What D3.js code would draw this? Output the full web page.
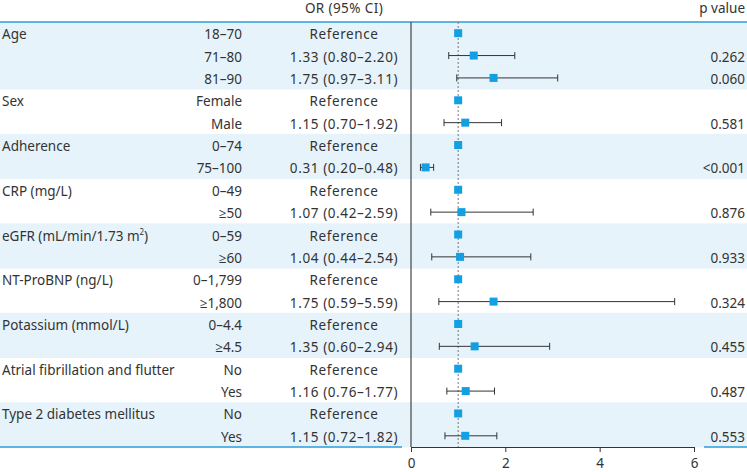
<!DOCTYPE html>
<html>
<head>
<meta charset="utf-8">
<script src="https://cdn.jsdelivr.net/npm/d3@7"></script>
<style>
  body { margin: 0; background: #fff; }
  svg { display: block; }
  text { font-family: "Noto Sans", "Open Sans", sans-serif; fill: #333; }
</style>
</head>
<body>
<svg id="chart" width="747" height="472"></svg>
<script>
// ---- data ----
const groupNames = ["Age", "", "", "Sex", "", "Adherence", "", "CRP (mg/L)", "", "eGFR", "", "NT-ProBNP (ng/L)", "", "Potassium (mmol/L)", "", "Atrial fibrillation and flutter", "", "Type 2 diabetes mellitus", ""];
const groupIndex = [0, 0, 0, 1, 1, 2, 2, 3, 3, 4, 4, 5, 5, 6, 6, 7, 7, 8, 8];
const subgroups = ["18–70", "71–80", "81–90", "Female", "Male", "0–74", "75–100", "0–49", "≥50", "0–59", "≥60", "0–1,799", "≥1,800", "0–4.4", "≥4.5", "No", "Yes", "No", "Yes"];
const orLabels = ["Reference", "1.33 (0.80–2.20)", "1.75 (0.97–3.11)", "Reference", "1.15 (0.70–1.92)", "Reference", "0.31 (0.20–0.48)", "Reference", "1.07 (0.42–2.59)", "Reference", "1.04 (0.44–2.54)", "Reference", "1.75 (0.59–5.59)", "Reference", "1.35 (0.60–2.94)", "Reference", "1.16 (0.76–1.77)", "Reference", "1.15 (0.72–1.82)"];
const estimates = [1, 1.33, 1.75, 1, 1.15, 1, 0.31, 1, 1.07, 1, 1.04, 1, 1.75, 1, 1.35, 1, 1.16, 1, 1.15];
const lower = [null, 0.80, 0.97, null, 0.70, null, 0.20, null, 0.42, null, 0.44, null, 0.59, null, 0.60, null, 0.76, null, 0.72];
const upper = [null, 2.20, 3.11, null, 1.92, null, 0.48, null, 2.59, null, 2.54, null, 5.59, null, 2.94, null, 1.77, null, 1.82];
const pValues = ["", "0.262", "0.060", "", "0.581", "", "<0.001", "", "0.876", "", "0.933", "", "0.324", "", "0.455", "", "0.487", "", "0.553"];
const xTicks = [0, 2, 4, 6];

const svg = d3.select("#chart");
const W = 747;
const yTop = 22, yBottom = 447;
const blue = "#2a9fd8";
const shade = "#e6f3fb";
const markerColor = "#139fe3";
const fs = 13.5;
const orX = 344;

const y = d3.scaleBand().domain(d3.range(subgroups.length)).range([yTop, yBottom]).padding(0);
const x = d3.scaleLinear().domain([0, 6]).range([411, 694]);

// shading per group
const rows = subgroups.map((s, i) => ({i, g: groupIndex[i]}));
svg.append("g").selectAll("rect").data(rows.filter(r => r.g % 2 === 0)).join("rect")
  .attr("x", 0).attr("width", W)
  .attr("y", r => y(r.i)).attr("height", y.bandwidth() + 0.5)
  .attr("fill", shade);

// header
svg.append("text").attr("x", orX).attr("y", 8).attr("text-anchor", "middle")
  .attr("dominant-baseline", "central").attr("font-size", fs).attr("letter-spacing", 0.4).text("OR (95% CI)");
svg.append("text").attr("x", 745).attr("y", 8).attr("text-anchor", "end")
  .attr("dominant-baseline", "central").attr("font-size", fs).text("p value");

// top blue line
svg.append("line").attr("x1", 0).attr("x2", W).attr("y1", yTop).attr("y2", yTop)
  .attr("stroke", blue).attr("stroke-width", 1.5);
// bottom blue lines (broken around axis)
svg.append("line").attr("x1", 0).attr("x2", 402).attr("y1", yBottom).attr("y2", yBottom)
  .attr("stroke", blue).attr("stroke-width", 1.5);
svg.append("line").attr("x1", 704).attr("x2", W).attr("y1", yBottom).attr("y2", yBottom)
  .attr("stroke", blue).attr("stroke-width", 1.5);

const cy = i => y(i) + y.bandwidth() / 2;
const ty = i => cy(i) + 1;
const tg = svg.append("g").attr("font-size", fs);

// group labels
tg.selectAll(".grp").data(rows.filter(r => groupNames[r.i] !== "")).join("text")
  .attr("class", "grp").attr("x", 2).attr("y", r => ty(r.i))
  .attr("dominant-baseline", "central")
  .each(function(r) {
    const t = d3.select(this);
    if (groupNames[r.i] === "eGFR") {
      t.append("tspan").text("eGFR (mL/min/1.73 m");
      t.append("tspan").attr("font-size", 8).attr("dy", -5).text("2");
      t.append("tspan").attr("dy", 5).text(")");
    } else {
      t.text(groupNames[r.i]);
    }
  });

// subgroup labels
tg.selectAll(".sub").data(rows).join("text")
  .attr("class", "sub").attr("x", 242).attr("y", r => ty(r.i))
  .attr("text-anchor", "end").attr("dominant-baseline", "central")
  .text(r => subgroups[r.i]);

// OR labels
tg.selectAll(".or").data(rows).join("text")
  .attr("class", "or").attr("x", orX).attr("y", r => ty(r.i))
  .attr("text-anchor", "middle").attr("dominant-baseline", "central")
  .attr("letter-spacing", 0.6)
  .text(r => orLabels[r.i]);

// p values
tg.selectAll(".pv").data(rows).join("text")
  .attr("class", "pv").attr("x", 745).attr("y", r => ty(r.i))
  .attr("text-anchor", "end").attr("dominant-baseline", "central")
  .text(r => pValues[r.i]);

// reference dotted line at 1
svg.append("line").attr("x1", x(1)).attr("x2", x(1)).attr("y1", yTop).attr("y2", yBottom)
  .attr("stroke", "#777").attr("stroke-width", 1).attr("stroke-dasharray", "2,2");

// axis
const axis = d3.axisBottom(x).tickValues(xTicks).tickFormat(d3.format("d")).tickSize(5).tickSizeOuter(0);
const ag = svg.append("g").attr("transform", `translate(0,${yBottom})`).call(axis);
ag.select(".domain").attr("stroke", "#333");
ag.selectAll(".tick line").attr("stroke", "#333");
ag.selectAll(".tick text").attr("font-size", fs).attr("fill", "#333")
  .attr("font-family", "'Noto Sans', sans-serif").attr("dy", "0.95em");

// vertical axis line at 0
svg.append("line").attr("x1", x(0)).attr("x2", x(0)).attr("y1", yTop).attr("y2", yBottom)
  .attr("stroke", "#444").attr("stroke-width", 1.2);

// CIs
const ciRows = rows.filter(r => lower[r.i] !== null);
const cg = svg.append("g").attr("stroke", "#333").attr("stroke-width", 1);
cg.selectAll(".ci").data(ciRows).join("line")
  .attr("x1", r => x(lower[r.i])).attr("x2", r => x(upper[r.i]))
  .attr("y1", r => cy(r.i)).attr("y2", r => cy(r.i));
cg.selectAll(".capl").data(ciRows).join("line")
  .attr("x1", r => x(lower[r.i])).attr("x2", r => x(lower[r.i]))
  .attr("y1", r => cy(r.i) - 3.5).attr("y2", r => cy(r.i) + 3.5);
cg.selectAll(".capr").data(ciRows).join("line")
  .attr("x1", r => x(upper[r.i])).attr("x2", r => x(upper[r.i]))
  .attr("y1", r => cy(r.i) - 3.5).attr("y2", r => cy(r.i) + 3.5);

// markers
const ms = 8;
svg.append("g").selectAll("rect").data(rows).join("rect")
  .attr("x", r => x(estimates[r.i]) - ms / 2).attr("y", r => cy(r.i) - ms / 2)
  .attr("width", ms).attr("height", ms).attr("fill", markerColor);
</script>
</body>
</html>
